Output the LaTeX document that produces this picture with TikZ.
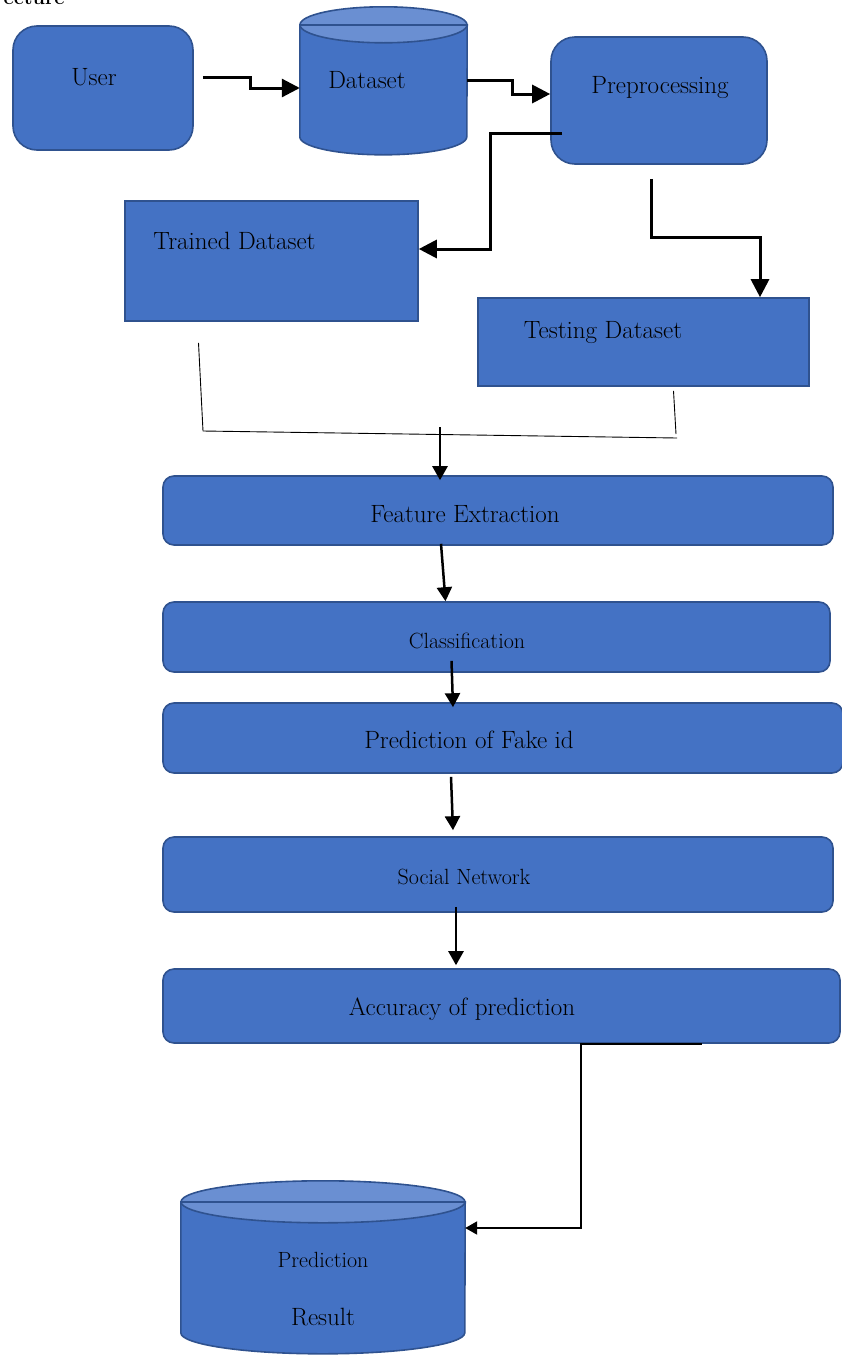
\documentclass[tikz,border=0pt]{standalone}
\usepackage{tikz}
\usetikzlibrary{arrows.meta, calc}
\definecolor{BoxBlue}{HTML}{4472C4}
\definecolor{EdgeBlue}{HTML}{2F528F}
\definecolor{TopBlue}{HTML}{6A8FD2}

\begin{document}
\begin{tikzpicture}[x=1pt, y=-1pt,
		box/.style={draw=EdgeBlue, fill=BoxBlue, line width=1.6pt, inner sep=0pt},
		rbox/.style={box, rounded corners=24pt},
		bar/.style={box, rounded corners=11pt},
		drum/.style={draw=EdgeBlue, fill=BoxBlue, line width=1.6pt},
		drumtop/.style={draw=EdgeBlue, fill=TopBlue, line width=1.6pt},
		hold/.style={inner sep=0pt},
		lbl/.style={anchor=base, font=\fontsize{25}{29}\selectfont},
		slbl/.style={anchor=base, font=\fontsize{22}{26}\selectfont},
		flow/.style={-{Triangle[length=18pt, width=18pt]}, line width=3pt},
		down/.style={-{Triangle[length=14pt, width=15pt]}, line width=2.5pt},
		seam/.style={line width=0.9pt}]

		\useasboundingbox (0,0) rectangle (841,1355);

		\node[anchor=base west, font=\fontsize{20}{24}\selectfont\bfseries] (heading) at (0,4) {ecture};

		% top row
		\node[rbox, minimum width=180, minimum height=124] (user) at (103,88) {};
		\node[rbox, minimum width=216, minimum height=127] (prep) at (659,100.5) {};

		% dataset drum
		\node[hold, minimum width=167, minimum height=126] (dataset) at (383.5,88) {};
		\path[drum] (dataset.north west) -- ++(0,112)
			arc[start angle=180, end angle=360, x radius=83.5pt, y radius=18pt]
			-- (dataset.north east) -- cycle;
		\path[drumtop] (dataset.north) ellipse [x radius=83.5pt, y radius=18pt];
		\draw[EdgeBlue, line width=1.6pt] (dataset.north west) -- (dataset.north east);

		% split
		\node[box, minimum width=293, minimum height=120] (trained) at (271.5,261) {};
		\node[box, minimum width=331, minimum height=88] (testing) at (643.5,342) {};

		% stages
		\node[bar, minimum width=670, minimum height=69] (feat) at (498,510.5) {};
		\node[bar, minimum width=667, minimum height=70] (class) at (496.5,637) {};
		\node[bar, minimum width=680, minimum height=70] (pred) at (503,738) {};
		\node[bar, minimum width=670, minimum height=75] (social) at (498,874.5) {};
		\node[bar, minimum width=677, minimum height=74] (acc) at (501.5,1006) {};

		% result drum
		\node[hold, minimum width=284, minimum height=152] (result) at (323,1278) {};
		\path[drum] (result.north west) -- ++(0,131)
			arc[start angle=180, end angle=360, x radius=142pt, y radius=21pt]
			-- (result.north east) -- cycle;
		\path[drumtop] (result.north) ellipse [x radius=142pt, y radius=21pt];
		\draw[EdgeBlue, line width=1.6pt] (result.north west) -- (result.north east);

		% labels
		\node[lbl] (user-lbl) at (94,85) {User};
		\node[lbl] (dataset-lbl) at (367,88) {Dataset};
		\node[lbl] (prep-lbl) at (660,93) {Preprocessing};
		\node[lbl] (trained-lbl) at (234.5,249) {Trained Dataset};
		\node[lbl] (testing-lbl) at (603,338) {Testing Dataset};
		\node[lbl] (feat-lbl) at (465,522) {Feature Extraction};
		\node[slbl] (class-lbl) at (467,648) {Classification};
		\node[lbl] (pred-lbl) at (469,748) {Prediction of Fake id};
		\node[slbl] (social-lbl) at (464,884) {Social Network};
		\node[lbl] (acc-lbl) at (462,1015) {Accuracy of prediction};
		\node[slbl] (result-lbl1) at (323,1267) {Prediction};
		\node[lbl] (result-lbl2) at (323,1325) {Result};

		% connectors
		\draw[flow] ($(user.east)+(9,-11)$) -- (250,77) |- (dataset.west);
		\draw[flow] ($(dataset.east)+(0,-8)$) -- (512,80) |- ($(prep.west)+(0,-6.5)$);
		\draw[flow] ($(prep.west)+(12,33)$) -| (490,249) -- ($(trained.east)+(0,-12)$);
		\draw[flow] ($(prep.south)+(-8,14)$) |- (760,237) -- (760,0 |- testing.north);

		\coordinate (lfoot) at (203,431);
		\coordinate (rfoot) at (677,438);
		\coordinate (tee) at (440,427);
		\draw[seam] ($(trained.south)+(-73,21)$) -- (lfoot);
		\draw[seam] ($(testing.south)+(30,4)$) -- ($(rfoot)+(-1,-4)$);
		\draw[seam] (lfoot) -- (rfoot);
		\draw[down] (tee) -- ($(feat.north)+(-58,5)$);

		\draw[down] ($(feat.south)+(-57,-2)$) -- ($(class.north)+(-51,0)$);
		\draw[down] ($(class.south)+(-45,-12)$) -- ($(pred.north)+(-50,5)$);
		\draw[down] ($(pred.south)+(-52,3)$) -- ($(social.north)+(-45,-6)$);
		\draw[down] ($(social.south)+(-42,-6)$) -- ($(acc.north)+(-45.5,-3)$);

		\draw[line width=2pt, -{Triangle[length=12pt, width=13pt]}] ($(acc.south)+(200,0)$) -- ($(acc.south)+(79.5,0)$) |- ($(result.east)+(0,-50)$);
	\end{tikzpicture}
\end{document}
